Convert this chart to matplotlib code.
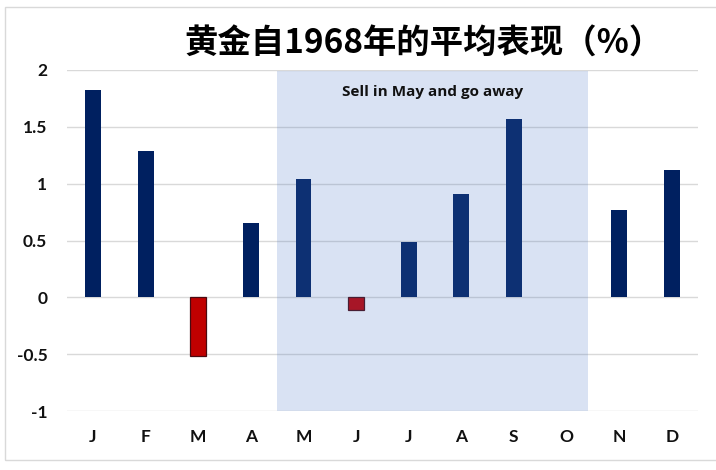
import matplotlib
matplotlib.use("Agg")
import matplotlib.pyplot as plt
from matplotlib.patches import Rectangle

months = ["J", "F", "M", "A", "M", "J", "J", "A", "S", "O", "N", "D"]
values = [1.82, 1.29, -0.52, 0.65, 1.04, -0.11, 0.49, 0.91, 1.57, 0.0, 0.77, 1.12]
yticks = [-1, -0.5, 0, 0.5, 1, 1.5, 2]
ytick_labels = ["-1", "-0.5", "0", "0.5", "1", "1.5", "2"]
title = "黄金自1968年的平均表现（%）"
note = "Sell in May and go away"
shade_start, shade_end = 3.5, 9.41

navy = "#002060"
red = "#C00000"

fig = plt.figure(figsize=(7.16, 4.70), dpi=100)
W, H = 716, 470
ax = fig.add_axes([66.7 / W, 1 - 411 / H, (698 - 66.7) / W, (411 - 70) / H])

x = list(range(len(months)))
colors = [navy if v >= 0 else red for v in values]
edges = ["none" if v >= 0 else "#4a0a10" for v in values]
widths = [0 if v >= 0 else 0.9 for v in values]
ax.bar(x, values, width=0.3, color=colors, edgecolor=edges, linewidth=widths, zorder=2)

ax.axvspan(shade_start, shade_end, ymin=0, ymax=(1.99 + 1) / 3, color="#4472C4", alpha=0.2, lw=0, zorder=3)

ax.set_xlim(-0.5, len(months) - 0.5)
ax.set_ylim(-1, 2)
ax.set_yticks(yticks)
ax.set_yticklabels(ytick_labels)
ax.set_xticks(x)
ax.set_xticklabels(months)
for s in ax.spines.values():
    s.set_visible(False)
ax.grid(axis="y", color="#d9d9d9", lw=1, zorder=0)
ax.tick_params(axis="both", length=0)
ax.tick_params(axis="y", pad=14)
ax.tick_params(axis="x", pad=13)
for lab in ax.get_xticklabels() + ax.get_yticklabels():
    lab.set_fontfamily("Lato")
    lab.set_fontweight("bold")
    lab.set_fontsize(12.5)
    lab.set_color("#111111")

ax.text((shade_start + shade_end) / 2, 1.81, note, ha="center", va="center",
        fontsize=11, fontfamily="Open Sans", fontweight="bold", color="#111111", zorder=4)

fig.text(424 / W, 1 - 44 / H, title, ha="center", va="center", fontsize=24,
         fontweight="bold", family=["Noto Sans CJK SC", "DejaVu Sans"], color="#000000")

fig.patches.append(Rectangle((5 / W, 1 - 460 / H), 720 / W, 453 / H, transform=fig.transFigure,
                             fill=False, edgecolor="#d9d9d9", lw=1))

fig.savefig("out.png", dpi=100)
